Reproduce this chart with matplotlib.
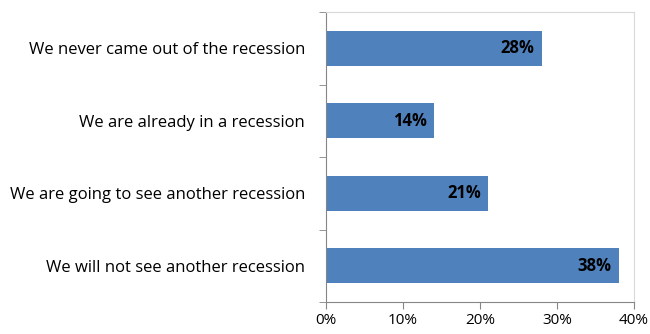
import matplotlib

matplotlib.use("Agg")
import matplotlib.pyplot as plt
from matplotlib.ticker import FixedLocator, PercentFormatter

categories = [
    "We will not see another recession",
    "We are going to see another recession",
    "We are already in a recession",
    "We never came out of the recession",
]
shares = [0.38, 0.21, 0.14, 0.28]
x_ticks = [0.0, 0.1, 0.2, 0.3, 0.4]

plt.rcParams["font.family"] = ["Open Sans", "DejaVu Sans"]

fig = plt.figure(figsize=(6.5, 3.34), dpi=100)
ax = fig.add_axes([326 / 650, 32 / 334, 308 / 650, 290 / 334])

pos = range(len(categories))
ax.barh(pos, shares, height=0.48, color="#4F81BD")
for y, v in zip(pos, shares):
    ax.text(v - 0.009, y, f"{v:.0%}", ha="right", va="center",
            fontsize=12, fontweight="bold", color="black")

ax.set_xlim(0, 0.4)
ax.set_ylim(-0.5, len(categories) - 0.5)
ax.set_yticks(list(pos))
ax.set_yticklabels(categories, fontsize=12)
ax.yaxis.set_minor_locator(FixedLocator([p - 0.5 for p in range(len(categories) + 1)]))
ax.tick_params(axis="y", which="major", length=0, pad=15)
ax.tick_params(axis="y", which="minor", length=5, color="#868686", direction="out")
ax.set_xticks(x_ticks)
ax.xaxis.set_major_formatter(PercentFormatter(1.0, decimals=0))
ax.tick_params(axis="x", length=5, color="#868686", labelsize=11, pad=3)

for side in ("top", "right"):
    ax.spines[side].set_color("#D9D9D9")
for side in ("left", "bottom"):
    ax.spines[side].set_color("#868686")

fig.savefig("out.png", dpi=100)
